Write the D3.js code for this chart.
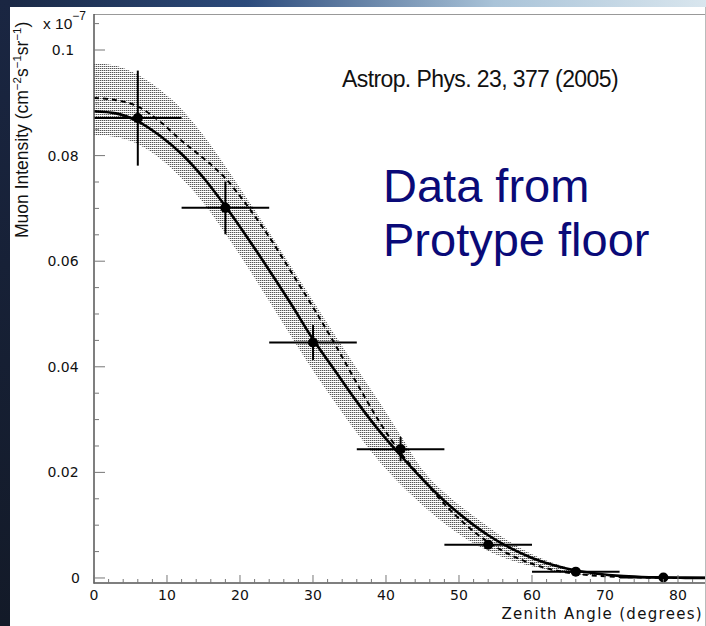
<!DOCTYPE html>
<html><head><meta charset="utf-8">
<script src="https://cdn.jsdelivr.net/npm/d3@7"></script>
<style>html,body{margin:0;padding:0;background:#fff;overflow:hidden} svg{display:block}</style>
</head><body><svg id="c" width="706" height="626"></svg>
<script>
// ---- data (values in units of 1e-7 cm^-2 s^-1 sr^-1) ----
const pointAngles = [6, 18, 30, 42, 54, 66, 78];
const pointValues = [0.0871, 0.0701, 0.0446, 0.0244, 0.0063, 0.0012, 0.0001];
const pointErrY   = [0.0090, 0.0050, 0.0033, 0.0023, 0.0008, 0.0003, 0.0001];
const pointErrX   = [6, 6, 6, 6, 6, 6, 6];

const curveAngles = [0,3,6,9,12,15,18,21,24,27,30,33,36,39,42,45,48,51,54,57,60,63,66,69,72,75,78,81,84];
const fitSolid  = [0.0884,0.0880,0.0865,0.0838,0.0803,0.0758,0.0704,0.0645,0.0583,0.0519,0.0452,0.0393,0.0334,0.0280,0.0232,0.0187,0.0146,0.0111,0.0081,0.0057,0.0038,0.0024,0.0014,0.0008,0.0004,0.0002,0.0001,0.00003,0.0];
const fitDashed = [0.0909,0.0905,0.0893,0.0865,0.0828,0.0795,0.0757,0.0705,0.0646,0.0580,0.0513,0.0443,0.0369,0.0298,0.0237,0.0188,0.0140,0.0100,0.0068,0.0044,0.0027,0.0015,0.0008,0.0004,0.0002,0.0001,0.00003,0.0,0.0];
const bandHigh  = [0.0975,0.0970,0.0953,0.0925,0.0888,0.0838,0.0780,0.0718,0.0655,0.0590,0.0525,0.0460,0.0397,0.0335,0.0270,0.0205,0.0162,0.0128,0.0097,0.0068,0.0045,0.0028,0.0016,0.0009,0.0004,0.0002,0.0001,0.0,0.0];
const bandLow   = [0.0839,0.0835,0.0822,0.0795,0.0757,0.0710,0.0652,0.0590,0.0524,0.0458,0.0393,0.0333,0.0275,0.0222,0.0177,0.0138,0.0103,0.0074,0.0051,0.0034,0.0022,0.0013,0.0007,0.0004,0.0002,0.0001,0.0,0.0,0.0];

const xMajorTicks = [0,10,20,30,40,50,60,70,80];
const yMajorTicks = [0,0.02,0.04,0.06,0.08,0.1];
const yTickLabels = ["0","0.02","0.04","0.06","0.08","0.1"];

const svg = d3.select("#c");

// ---- slide background ----
const defs = svg.append("defs");
const g1 = defs.append("linearGradient").attr("id","topg").attr("x1","0").attr("x2","1").attr("y1","0").attr("y2","0");
g1.append("stop").attr("offset","0").attr("stop-color","#1a2844");
g1.append("stop").attr("offset","0.35").attr("stop-color","#2c4b7c");
g1.append("stop").attr("offset","0.7").attr("stop-color","#a9c3d8");
g1.append("stop").attr("offset","1").attr("stop-color","#d9e6ee");
const g2 = defs.append("linearGradient").attr("id","leftg").attr("x1","0").attr("x2","0").attr("y1","0").attr("y2","1");
g2.append("stop").attr("offset","0").attr("stop-color","#1a2642");
g2.append("stop").attr("offset","1").attr("stop-color","#131a28");
svg.append("rect").attr("x",0).attr("y",0).attr("width",706).attr("height",626).attr("fill","#fff");
svg.append("rect").attr("x",0).attr("y",0).attr("width",706).attr("height",7).attr("fill","url(#topg)");
svg.append("rect").attr("x",0).attr("y",0).attr("width",10).attr("height",626).attr("fill","url(#leftg)");

// stipple pattern
const pat = defs.append("pattern").attr("id","stip").attr("patternUnits","userSpaceOnUse")
  .attr("x",0).attr("y",0).attr("width",2).attr("height",2);
pat.append("rect").attr("x",0).attr("y",0).attr("width",1).attr("height",1).attr("fill","#555");
pat.append("rect").attr("x",1).attr("y",0).attr("width",1).attr("height",1).attr("fill","#c4c4c4");

defs.append("clipPath").attr("id","clip").append("rect")
  .attr("x",94).attr("y",14).attr("width",611).attr("height",569);

// ---- scales ----
const x = d3.scaleLinear().domain([0, 83.7]).range([94, 705]);
const y = d3.scaleLinear().domain([-0.00095, 0.10682]).range([583, 14]);

// frame lines of the pasted picture
svg.append("line").attr("x1",94).attr("x2",705).attr("y1",14.5).attr("y2",14.5).attr("stroke","#999").attr("stroke-width",1);
svg.append("line").attr("x1",705.5).attr("x2",705.5).attr("y1",7).attr("y2",626).attr("stroke","#bbb").attr("stroke-width",1);

const plot = svg.append("g").attr("clip-path","url(#clip)");
const curveData = curveAngles.map((a,i)=>({a, s:fitSolid[i], d:fitDashed[i], lo:bandLow[i], hi:bandHigh[i]}));

plot.append("path").datum(curveData)
  .attr("d", d3.area().x(d=>x(d.a)).y0(d=>y(d.lo)).y1(d=>y(d.hi)).curve(d3.curveMonotoneX))
  .attr("fill","url(#stip)");
plot.append("path").datum(curveData)
  .attr("d", d3.line().x(d=>x(d.a)).y(d=>y(d.d)).curve(d3.curveMonotoneX))
  .attr("fill","none").attr("stroke","#000").attr("stroke-width",2).attr("stroke-dasharray","5,4");
plot.append("path").datum(curveData)
  .attr("d", d3.line().x(d=>x(d.a)).y(d=>y(d.s)).curve(d3.curveMonotoneX))
  .attr("fill","none").attr("stroke","#000").attr("stroke-width",2.6);

// ---- points with error bars ----
const pts = pointAngles.map((a,i)=>({a, v:pointValues[i], ey:pointErrY[i], ex:pointErrX[i]}));
const pg = plot.append("g");
pg.selectAll(".ex").data(pts).join("line")
  .attr("x1",d=>x(d.a-d.ex)).attr("x2",d=>x(d.a+d.ex)).attr("y1",d=>y(d.v)).attr("y2",d=>y(d.v))
  .attr("stroke","#000").attr("stroke-width",2);
pg.selectAll(".ey").data(pts).join("line")
  .attr("x1",d=>x(d.a)).attr("x2",d=>x(d.a)).attr("y1",d=>y(d.v-d.ey)).attr("y2",d=>y(d.v+d.ey))
  .attr("stroke","#000").attr("stroke-width",2);
pg.selectAll("circle").data(pts).join("circle")
  .attr("cx",d=>x(d.a)).attr("cy",d=>y(d.v)).attr("r",5).attr("fill","#000");

// ---- axes ----
const axisCol = "#555", tickCol = "#777";
svg.append("line").attr("x1",94).attr("x2",94).attr("y1",14).attr("y2",583.5).attr("stroke",axisCol).attr("stroke-width",1.5);
svg.append("line").attr("x1",93.5).attr("x2",705).attr("y1",583).attr("y2",583).attr("stroke",axisCol).attr("stroke-width",1.5);

const xMinor = d3.range(0, 84, 2).filter(v=>v%10!==0);
svg.selectAll(".xmaj").data(xMajorTicks).join("line")
  .attr("x1",d=>x(d)).attr("x2",d=>x(d)).attr("y1",583).attr("y2",575).attr("stroke",tickCol).attr("stroke-width",1);
svg.selectAll(".xmin").data(xMinor).join("line")
  .attr("x1",d=>x(d)).attr("x2",d=>x(d)).attr("y1",583).attr("y2",579).attr("stroke",tickCol).attr("stroke-width",1);
const yMinor = d3.range(0.005, 0.106, 0.005).filter(v=>Math.abs(v/0.02-Math.round(v/0.02))>0.01);
svg.selectAll(".ymaj").data(yMajorTicks).join("line")
  .attr("x1",94).attr("x2",105).attr("y1",d=>y(d)).attr("y2",d=>y(d)).attr("stroke",tickCol).attr("stroke-width",1);
svg.selectAll(".ymin").data(yMinor).join("line")
  .attr("x1",94).attr("x2",99).attr("y1",d=>y(d)).attr("y2",d=>y(d)).attr("stroke",tickCol).attr("stroke-width",1);

const tickFont = "DejaVu Sans";
svg.selectAll(".xl").data(xMajorTicks).join("text")
  .attr("x",d=>x(d)).attr("y",599.5).attr("text-anchor","middle")
  .attr("font-family",tickFont).attr("font-size",14).attr("fill","#111").text(d=>d);
svg.selectAll(".yl").data(yMajorTicks).join("text")
  .attr("x",(d,i)=> yTickLabels[i].length>1 ? 63 : 80)
  .attr("text-anchor",(d,i)=> yTickLabels[i].length>1 ? "middle" : "end")
  .attr("y",d=>y(d)).attr("dy","0.36em")
  .attr("font-family",tickFont).attr("font-size",14).attr("fill","#111").text((d,i)=>yTickLabels[i]);

svg.append("text").attr("x",703).attr("y",619).attr("text-anchor","end")
  .attr("font-family",tickFont).attr("font-size",15).attr("letter-spacing",1.3).attr("fill","#111")
  .text("Zenith Angle (degrees)");

// y title
const yt = svg.append("text").attr("transform","translate(28,238) rotate(-90)")
  .attr("font-family","Liberation Sans, Arial, sans-serif").attr("font-size",17.5).attr("fill","#111");
yt.append("tspan").text("Muon Intensity (cm");
yt.append("tspan").attr("dy",-7).attr("font-size",11.5).text("\u22122");
yt.append("tspan").attr("dy",7).text("s");
yt.append("tspan").attr("dy",-7).attr("font-size",11.5).text("\u22121");
yt.append("tspan").attr("dy",7).text("sr");
yt.append("tspan").attr("dy",-7).attr("font-size",11.5).text("\u22121");
yt.append("tspan").attr("dy",7).text(")");

// exponent
const ex = svg.append("text").attr("x",43).attr("y",29)
  .attr("font-family","Liberation Sans, Arial, sans-serif").attr("font-size",15.5).attr("fill","#111");
ex.append("tspan").text("x 10");
ex.append("tspan").attr("dy",-9).attr("font-size",12).text("\u22127");

// annotations
svg.append("text").attr("x",342).attr("y",87).attr("font-family","Liberation Sans, Arial, sans-serif")
  .attr("font-size",23).attr("letter-spacing",-0.6).attr("fill","#111").text("Astrop. Phys. 23, 377 (2005)");
svg.append("text").attr("x",383).attr("y",202).attr("font-family","Liberation Sans, Arial, sans-serif")
  .attr("font-size",47).attr("fill","#0a0a78").text("Data from");
svg.append("text").attr("x",383).attr("y",256).attr("font-family","Liberation Sans, Arial, sans-serif")
  .attr("font-size",47).attr("fill","#0a0a78").text("Protype floor");
</script></body></html>
